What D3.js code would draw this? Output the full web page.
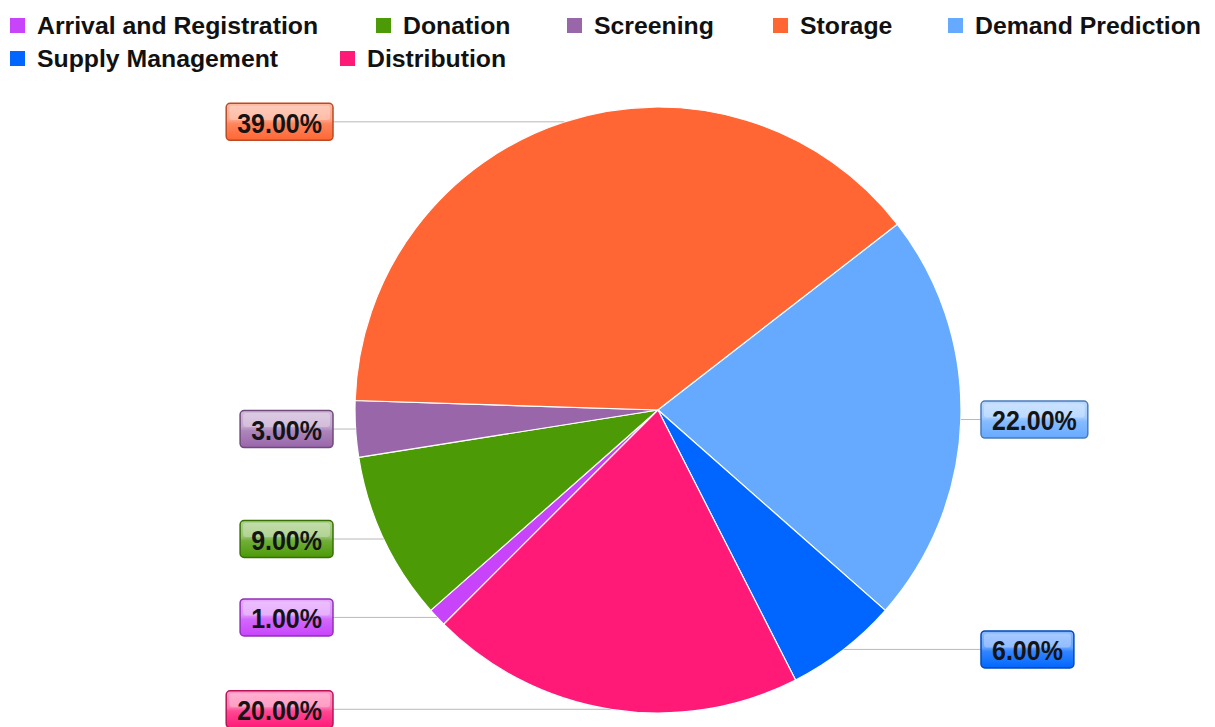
<!DOCTYPE html>
<html>
<head>
<meta charset="utf-8">
<script src="https://cdn.jsdelivr.net/npm/d3@7"></script>
<style>
  html, body { margin: 0; padding: 0; background: #fff; }
  svg { display: block; }
  text { font-family: "Liberation Sans", Arial, sans-serif; }
</style>
</head>
<body>
<svg id="chart" width="1215" height="727"></svg>
<script>
// ---- data ----
const categories = ["Arrival and Registration", "Donation", "Screening", "Storage", "Demand Prediction", "Supply Management", "Distribution"];
const values = [1, 9, 3, 39, 22, 6, 20];
const colors = ["#c844fb", "#4c9a06", "#9966aa", "#ff6633", "#66aaff", "#0066ff", "#ff1a78"];
const labelTexts = ["1.00%", "9.00%", "3.00%", "39.00%", "22.00%", "6.00%", "20.00%"];

// ---- layout ----
const W = 1215, H = 727;
const cx = 658, cy = 410, R = 303;
const leftBoxRight = 333, rightBoxLeft = 981;
const svg = d3.select("#chart");
const defs = svg.append("defs");

const data = categories.map((c, i) => ({ name: c, value: values[i], color: colors[i], label: labelTexts[i] }));

// legend
const legendRows = [[0, 1, 2, 3, 4], [5, 6]];
const legendX = [[10, 376, 567, 773, 948], [10, 340]];
const legendY = [25.5, 58.5];
legendRows.forEach((row, r) => {
  row.forEach((idx, k) => {
    const g = svg.append("g").attr("transform", `translate(${legendX[r][k]},${legendY[r]})`);
    g.append("rect").attr("x", 0).attr("y", -7.5).attr("width", 15).attr("height", 15).attr("fill", data[idx].color);
    g.append("text").attr("x", 27).attr("y", 0).attr("dy", "0.35em")
      .attr("font-size", 24.8).attr("font-weight", "bold").attr("fill", "#111")
      .text(data[idx].name);
  });
});

// pie
const pie = d3.pie().value(d => d.value).sort(null)
  .startAngle(Math.PI * 1.25).endAngle(Math.PI * 3.25);
const arcs = pie(data);
const arc = d3.arc().innerRadius(0).outerRadius(R);

const gPie = svg.append("g").attr("transform", `translate(${cx},${cy})`);
gPie.selectAll("path").data(arcs).join("path")
  .attr("d", arc)
  .attr("fill", d => d.data.color)
  .attr("stroke", "#ffffff")
  .attr("stroke-width", 1.2)
  .attr("stroke-linejoin", "round");

// gradients for label boxes
data.forEach((d, i) => {
  const lg = defs.append("linearGradient").attr("id", "grad" + i)
    .attr("x1", 0).attr("y1", 0).attr("x2", 0).attr("y2", 1);
  lg.append("stop").attr("offset", "0%").attr("stop-color", d3.interpolateRgb(d.color, "#fff")(0.55));
  lg.append("stop").attr("offset", "45%").attr("stop-color", d3.interpolateRgb(d.color, "#fff")(0.4));
  lg.append("stop").attr("offset", "55%").attr("stop-color", d3.interpolateRgb(d.color, "#fff")(0.2));
  lg.append("stop").attr("offset", "100%").attr("stop-color", d.color);
});

// labels
const labels = svg.append("g");
arcs.forEach((a, i) => {
  const mid = (a.startAngle + a.endAngle) / 2;
  const px = cx + R * Math.sin(mid);
  const py = cy - R * Math.cos(mid);
  const right = Math.sin(mid) > 0;
  const g = labels.append("g");
  const tg = g.append("g");
  const t = tg.append("text")
    .attr("font-size", 25).attr("font-weight", "bold").attr("fill", "#141414")
    .attr("dy", "0.36em").attr("text-anchor", "middle")
    .text(a.data.label);
  const tw = t.node().getComputedTextLength();
  const bw = tw + 22, bh = 37;
  const bx = right ? rightBoxLeft : leftBoxRight - bw;
  const by = py - bh / 2;
  g.insert("line", "g")
    .attr("x1", px).attr("y1", py)
    .attr("x2", right ? bx : bx + bw).attr("y2", py)
    .attr("stroke", "#b8b8b8").attr("stroke-width", 1);
  const dark = d3.color(a.data.color).darker(0.9);
  g.insert("rect", "g")
    .attr("x", bx).attr("y", by).attr("width", bw).attr("height", bh)
    .attr("rx", 4).attr("ry", 4)
    .attr("fill", `url(#grad${i})`)
    .attr("stroke", dark).attr("stroke-width", 1.5);
  g.insert("rect", "g")
    .attr("x", bx + 3).attr("y", by + 2.5).attr("width", bw - 6).attr("height", bh * 0.38)
    .attr("rx", 3).attr("ry", 3)
    .attr("fill", "#ffffff").attr("fill-opacity", 0.28);
  tg.attr("transform", `translate(${bx + bw / 2},${py + 1}) scale(1,1.1)`);
});
</script>
</body>
</html>
